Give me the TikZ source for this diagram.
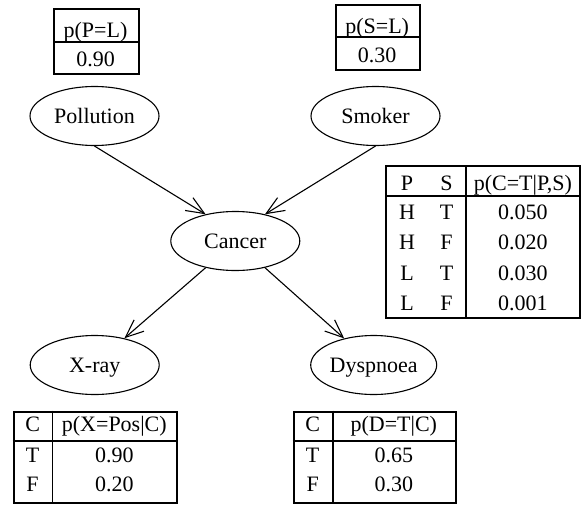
\documentclass[tikz,border=0pt]{standalone}
\usepackage{fontspec}
\setmainfont{Liberation Serif}
\usetikzlibrary{shapes.geometric,arrows.meta}
\begin{document}
\begin{tikzpicture}[x=1pt,y=-1pt,
  font=\fontsize{22}{26}\selectfont,
  var/.style={ellipse,draw,line width=1.1pt,minimum width=129pt,minimum height=59pt,
    inner sep=0pt,text height=15pt,text depth=0pt},
  edge/.style={line width=1.1pt,-{Straight Barb[length=18pt,width=15pt,line width=1.1pt]}},
  tab/.style={draw,line width=1.8pt,inner sep=0pt,anchor=north west},
  rule/.style={line width=1.8pt},
  cell/.style={anchor=base,inner sep=0pt}
]
\useasboundingbox (0,0) rectangle (581,504);

% variables
\node[var] (pol) at (94.5,116) {Pollution};
\node[var] (smo) at (375.5,116) {Smoker};
\node[var] (can) at (235.3,241) {Cancer};
\node[var] (xr)  at (94.7,365) {X-ray};
\node[var,minimum width=126pt] (dys) at (373.7,365) {Dyspnoea};

% edges
\draw[edge] (pol.south) -- (can.138);
\draw[edge] (smo.south) -- (can.42);
\draw[edge] (can.222) -- (xr.42);
\draw[edge] (can.318) -- (dys.138);

% p(P=L) table
\node[tab,minimum width=84.4pt,minimum height=64.4pt] (tP) at (53.3,8.3) {};
\draw[rule] (53.3,41.7) -- (137.7,41.7);
\node[cell] (tPh) at (95.5,37.4) {p(P=L)};
\node[cell] (tPv) at (95.5,66.5) {0.90};

% p(S=L) table
\node[tab,minimum width=84.3pt,minimum height=65pt] (tS) at (335,4.3) {};
\draw[rule] (335,37.3) -- (419.3,37.3);
\node[cell] (tSh) at (377.2,33.3) {p(S=L)};
\node[cell] (tSv) at (377.2,62.7) {0.30};

% p(C=T|P,S) table
\node[tab,minimum width=194pt,minimum height=151.7pt] (tC) at (385.3,165) {};
\draw[rule] (385.3,195.7) -- (579.3,195.7);
\draw[rule] (466.3,165) -- (466.3,316.7);
\node[cell] (tCh1) at (407,190) {P};
\node[cell] (tCh2) at (446.5,190) {S};
\node[cell] (tCh3) at (522.8,190) {p(C=T|P,S)};
\node[cell] at (407,219.5) {H};
\node[cell] at (446.5,219.5) {T};
\node[cell] at (522.8,219.5) {0.050};
\node[cell] at (407,249.5) {H};
\node[cell] at (446.5,249.5) {F};
\node[cell] at (522.8,249.5) {0.020};
\node[cell] at (407,280) {L};
\node[cell] at (446.5,280) {T};
\node[cell] at (522.8,280) {0.030};
\node[cell] at (407,310) {L};
\node[cell] at (446.5,310) {F};
\node[cell] at (522.8,310) {0.001};

% p(X=Pos|C) table
\node[tab,minimum width=163.3pt,minimum height=91pt] (tX) at (12.7,410.7) {};
\draw[rule] (12.7,440.7) -- (176,440.7);
\draw[rule] (52.5,410.7) -- (52.5,501.7);
\node[cell] at (32.6,431) {C};
\node[cell] at (114.3,431) {p(X=Pos|C)};
\node[cell] at (32.6,462.5) {T};
\node[cell] at (114.3,462.5) {0.90};
\node[cell] at (32.6,491.5) {F};
\node[cell] at (114.3,491.5) {0.20};

% p(D=T|C) table
\node[tab,minimum width=162.3pt,minimum height=91pt] (tD) at (292.7,410.7) {};
\draw[rule] (292.7,440.7) -- (455,440.7);
\draw[rule] (332.7,410.7) -- (332.7,501.7);
\node[cell] at (312.7,431) {C};
\node[cell] at (393.8,431) {p(D=T|C)};
\node[cell] at (312.7,462.5) {T};
\node[cell] at (393.8,462.5) {0.65};
\node[cell] at (312.7,491.5) {F};
\node[cell] at (393.8,491.5) {0.30};
\end{tikzpicture}
\end{document}
